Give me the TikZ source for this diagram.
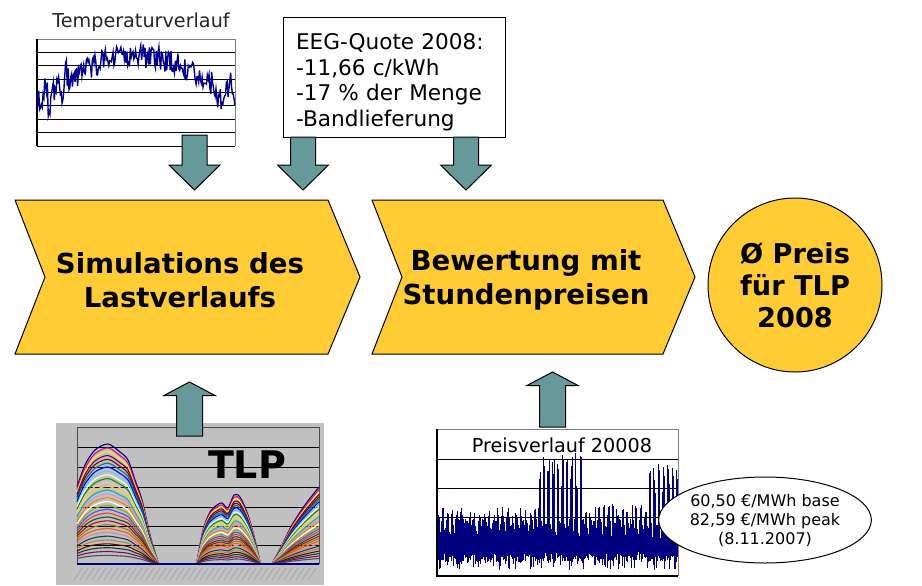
\documentclass[tikz,border=0pt]{standalone}
\usepackage{fontspec}
\setmainfont{DejaVu Sans}
\usepackage{tikz}
\usetikzlibrary{positioning, shapes.geometric, calc}
\definecolor{ChevYellow}{HTML}{FFCC33}
\definecolor{ArrowTeal}{HTML}{669999}
\definecolor{PriceNavy}{HTML}{000080}
\definecolor{ChartGray}{HTML}{C0C0C0}

\tikzset{
  chevfill/.style={fill=ChevYellow, draw=black, line width=0.5pt},
  chevtext/.style={font=\bfseries\fontsize{13.8}{17}\selectfont, align=center},
  bigarrow/.style={fill=ArrowTeal, draw=black, line width=0.5pt},
  gridline/.style={black, line width=0.45pt},
  frameline/.style={gray, line width=0.45pt},
  eegbox/.style={draw, fill=white, line width=0.5pt, minimum width=111pt, minimum height=59.5pt,
    text width=98pt, inner xsep=6.5pt, align=left, font=\fontsize{10.8}{12.75}\selectfont},
  priceoval/.style={ellipse, draw, fill=white, line width=0.5pt, minimum width=102pt,
    minimum height=43pt, inner sep=0pt, align=center, font=\fontsize{8}{9.5}\selectfont},
  declare function={penv(\x)=ifthenelse(\x<539,118,ifthenelse(\x<582,210,ifthenelse(\x<648,122,190)));}
}

% block arrows: x centre, tail y, tip y
\newcommand{\blockdown}[3]{%
  \draw[bigarrow] (#1-12.5,#2) -- (#1+12.5,#2) -- (#1+12.5,#3-25) -- (#1+25.5,#3-25)
    -- (#1,#3) -- (#1-25.5,#3-25) -- (#1-12.5,#3-25) -- cycle;}
\newcommand{\blockup}[3]{%
  \draw[bigarrow] (#1-13,#2) -- (#1+13,#2) -- (#1+13,#3+13.5) -- (#1+25.5,#3+13.5)
    -- (#1,#3) -- (#1-25.5,#3+13.5) -- (#1-13,#3+13.5) -- cycle;}
% chevron: left x, shoulder x
\newcommand{\chevron}[2]{%
  \filldraw[chevfill] (#1,200) -- (#2,200) -- (#2+32,277) -- (#2,354) -- (#1,354) -- (#1+30,277) -- cycle;}

\begin{document}
\begin{tikzpicture}[x=0.5pt, y=-0.5pt]
  \useasboundingbox (0,0) rectangle (922,585);

  % Temperature chart
  \node[font=\fontsize{9.6}{11}\selectfont, text=black!85] (ttitle) at (141,22) {Temperaturverlauf};
  \foreach \k in {1,...,8}
    \draw[gridline] (37,{39+13.375*\k}) -- (235,{39+13.375*\k});
  \draw[frameline] (37,39) -- (235,39) -- (235,146);
  \draw[black, line width=0.6pt] (37,39) -- (37,146);
  \pgfmathsetseed{42}
  \draw[PriceNavy!85!blue, line width=0.7pt] plot[domain=37:235, samples=230]
    (\x, {106 - 50*sin(0.8372*(\x-30)) + 12*rand
      + 28*max(0,1-abs(\x-49)/2) + 26*max(0,1-abs(\x-62)/2) + 12*max(0,1-abs(\x-73)/2)
      - 18*max(0,1-abs(\x-46)/2) - 14*max(0,1-abs(\x-66)/2)
      + 18*max(0,1-abs(\x-217)/2) + 24*max(0,1-abs(\x-222)/2) - 14*max(0,1-abs(\x-231)/2)});

  % EEG box
  \node[eegbox] (eeg) at (394,77.5) {\rule{0pt}{12.5pt}EEG-Quote 2008:\\-11,66 c/kWh\\-17 \% der Menge\\-Bandlieferung};

  % Process chevrons
  \chevron{15}{328}
  \node[chevtext] (sim) at (180,280) {Simulations des\\Lastverlaufs};
  \chevron{372}{663}
  \node[chevtext] (bew) at (526,280) {Bewertung mit\\Stundenpreisen};
  \node[circle, draw, fill=ChevYellow, line width=0.5pt, minimum size=87pt, inner sep=0pt, align=center,
    font=\bfseries\fontsize{13.6}{16}\selectfont] (preis) at (795,285) {Ø Preis\\für TLP\\2008};

  % TLP chart
  \fill[ChartGray] (56,423) rectangle (324,585);
  \foreach \yy in {447,467,487,507,526,545}
    \draw[gridline] (77,\yy) -- (319,\yy);
  \draw[gray!60!black, line width=0.5pt] (77,564) -- (77,427) -- (319,427) -- (319,564);
  \foreach \c [count=\i] in {blue!50!black, magenta, yellow, violet!80!black, red!50!black, teal,
      blue, cyan!60, white!80!yellow, green!60!black, pink, yellow!80!orange, cyan, violet!40,
      orange, white, lime!70!black, blue!70, red!80, green!40!black, purple, olive, orange!70!red,
      pink!70!violet, teal!60!black, brown, red!40!black, green!30!black, violet, black!70}
  {
    \pgfmathsetmacro\s{1-(\i-1)*0.032}
    \begin{scope}[shift={(0,564)}, yscale=\s]
      \draw[\c, line width=0.55pt] plot[smooth] coordinates {(77,-77) (85,-99) (95,-114) (108,-120)
        (120,-112) (128,-104) (135,-84) (142,-64) (150,-29) (158,-2)};
      \draw[\c, line width=0.55pt] plot[smooth] coordinates {(197,-2) (203,-34) (210,-52) (217,-59)
        (222,-61) (228,-56) (234,-69) (240,-67) (248,-49) (255,-24) (260,-2)};
      \draw[\c, line width=0.55pt] plot[smooth] coordinates {(273,-2) (282,-19) (292,-39) (305,-59)
        (319,-77)};
    \end{scope}
  }
  \draw[blue!50!black, line width=0.6pt] (77,564) -- (319,564);
  \foreach \t in {82,88,...,316}
    \draw[gray!75, line width=0.3pt] (\t,568) -- ++(-8,12);
  \node[font=\bfseries\fontsize{19}{20}\selectfont] (tlp) at (247,465) {TLP};

  % Price chart
  \foreach \yy in {459,488,517,547}
    \draw[gridline] (437,\yy) -- (678,\yy);
  \draw[frameline] (437,429) -- (678,429) -- (678,576);
  \pgfmathsetseed{7}
  \foreach \xx in {438,438.5,...,677.5} {
    \pgfmathsetmacro\lo{ifthenelse(rnd<0.15, 10+15*rnd, 24+18*rnd)}
    \pgfmathsetmacro\hi{ifthenelse(mod(\xx,4.6)<2.1, penv(\xx)*(0.68+0.32*rnd), 62+36*rnd)}
    \draw[PriceNavy, line width=0.45pt] (\xx,{576-0.588*\lo}) -- (\xx,{576-0.588*\hi});
  }
  \draw[black, line width=0.6pt] (437,429) -- (437,576) -- (678,576);
  \node[font=\fontsize{9.6}{11}\selectfont] (ptitle) at (562,445) {Preisverlauf 20008};
  \node[priceoval] (ppeak) at (765,520) {60,50 €/MWh base\\82,59 €/MWh peak\\(8.11.2007)};

  % Input arrows
  \blockdown{194.5}{135}{190}
  \blockdown{303}{137}{190}
  \blockdown{466}{137}{190}
  \blockup{189.5}{436}{382}
  \blockup{552.5}{427}{372}
\end{tikzpicture}
\end{document}
